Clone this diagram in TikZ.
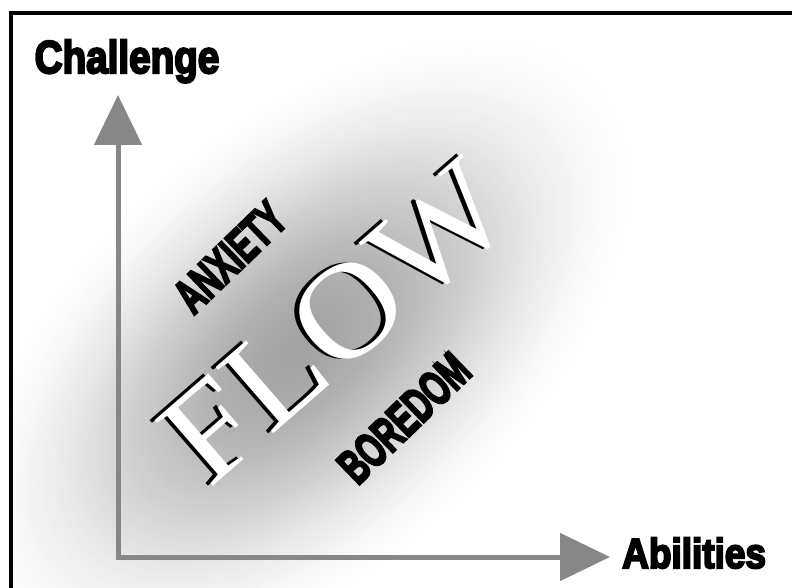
\documentclass[tikz,border=0pt]{standalone}
\usepackage{fontspec}
\usepackage{graphicx}
\usetikzlibrary{positioning}
\usetikzlibrary{arrows.meta}
\newfontfamily\labelfont{Liberation Sans}[FakeBold=5]
\newfontfamily\flowfont{Liberation Serif}

\begin{document}
\begin{tikzpicture}[x=1pt, y=-1pt,
axis/.style={line width=5pt, draw=black!47, {Triangle[width=47pt,length=50pt]}-{Triangle[width=47pt,length=50pt]}},
axislabel/.style={inner sep=0pt, font=\labelfont\bfseries\fontsize{46}{46}\selectfont},
moodlabel/.style={inner sep=0pt, rotate=44, font=\labelfont\bfseries\fontsize{49}{49}\selectfont},
flowtext/.style={inner sep=0pt, rotate=41, font=\flowfont\fontsize{134}{134}\selectfont},
]
\useasboundingbox (0,0) rectangle (792,588);

%Glow
\begin{scope}[shift={(300,350)}, rotate=42]
\foreach \i in {0,...,79}{
  \pgfmathsetmacro\s{1-\i/80}
  \pgfmathsetmacro\k{36*(1-3*\s*\s+2*\s*\s*\s)}
  \fill[black!\k] (0,0) ellipse ({420*\s} and {230*\s});
}
\end{scope}

%Frame
\fill[white] (0,0) rectangle (9,588);
\draw[line width=4pt] (11,588) -- (11,13) -- (792,13);

%Axes
\coordinate (origin) at (118,557);
\coordinate (ytip)   at (118,95);
\coordinate (xtip)   at (610,557);
\draw[axis] (ytip) -- (origin) -- (xtip);

%Nodes
\node[axislabel] (challenge) [above=12pt of ytip, xshift=9pt] {\scalebox{0.84}[1]{Challenge}};
\node[axislabel, font=\labelfont\bfseries\fontsize{42}{42}\selectfont] (abilities) [right=12pt of xtip, yshift=4pt] {\scalebox{0.88}[1]{Abilities}};
\node[moodlabel] (anxiety) at (230,257) {\scalebox{0.63}[1]{ANXIETY}};
\node[moodlabel] (boredom) at (404,418) {\scalebox{0.63}[1]{BOREDOM}};

\node[flowtext, text=black] (flowshadow) at (331,322) {\scalebox{1.08}[1]{FLOW}};
\node[flowtext, text=white] (flow) at ([xshift=5pt]flowshadow) {\scalebox{1.08}[1]{FLOW}};
\end{tikzpicture}
\end{document}
